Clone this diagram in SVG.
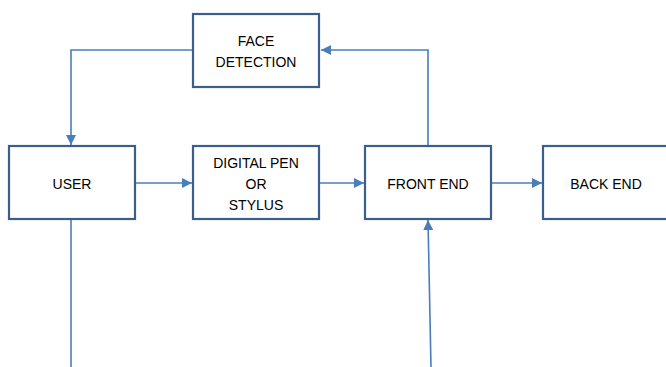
<svg xmlns="http://www.w3.org/2000/svg" width="666" height="367" viewBox="0 0 666 367">
<style>
.box{fill:#fff;stroke:#3b5f8c;stroke-width:2.2}
.lbl{font-family:"Liberation Sans",Arial,sans-serif;font-size:14px;fill:#000;text-anchor:middle}
.ln{fill:none;stroke:#4a7ebb;stroke-width:1.6}
</style>
<defs>
<marker id="ahb" viewBox="0 0 10 10" refX="10" refY="5" markerWidth="10" markerHeight="10" markerUnits="userSpaceOnUse" orient="auto">
<path d="M0,0 L10,5 L0,10 z" fill="#4a7ebb"/>
</marker>
</defs>
<g id="connectors">
<path class="ln" d="M193,50 H71 V145" marker-end="url(#ahb)"/>
<path class="ln" d="M135,183 H192" marker-end="url(#ahb)"/>
<path class="ln" d="M320,183 H364" marker-end="url(#ahb)"/>
<path class="ln" d="M491,183 H542" marker-end="url(#ahb)"/>
<path class="ln" d="M428,146 V50 H321" marker-end="url(#ahb)"/>
<path class="ln" d="M71,219 V367"/>
<path class="ln" d="M431,367 L428,220" marker-end="url(#ahb)"/>
</g>
<g id="face-detection">
<rect class="box" x="193" y="14" width="126" height="73"/>
<text class="lbl" x="256" y="46">FACE</text>
<text class="lbl" x="256" y="67">DETECTION</text>
</g>
<g id="user">
<rect class="box" x="9" y="146" width="126" height="73"/>
<text class="lbl" x="72" y="189">USER</text>
</g>
<g id="digital-pen">
<rect class="box" x="193" y="146" width="126" height="73"/>
<text class="lbl" x="256" y="168">DIGITAL PEN</text>
<text class="lbl" x="256" y="189">OR</text>
<text class="lbl" x="256" y="210">STYLUS</text>
</g>
<g id="front-end">
<rect class="box" x="365" y="146" width="126" height="73"/>
<text class="lbl" x="428" y="189">FRONT END</text>
</g>
<g id="back-end">
<rect class="box" x="543" y="146" width="126" height="73"/>
<text class="lbl" x="606" y="189">BACK END</text>
</g>
</svg>
